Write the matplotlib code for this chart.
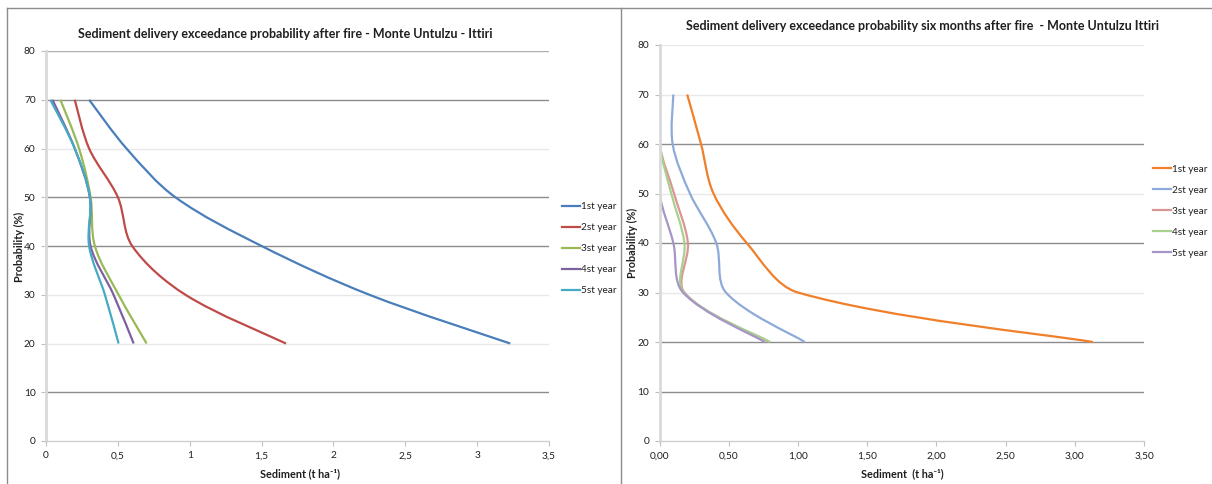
import numpy as np
import matplotlib
matplotlib.use("Agg")
import matplotlib.pyplot as plt
from matplotlib.path import Path
from matplotlib.patches import PathPatch
from matplotlib.lines import Line2D

# ---------------- data ----------------
probability = [70, 60, 50, 40, 30, 20]
series_labels = ["1st year", "2st year", "3st year", "4st year", "5st year"]

after_fire_1st = [0.30, 0.56, 0.90, 1.50, 2.25, 3.23]
after_fire_2nd = [0.20, 0.30, 0.50, 0.60, 0.97, 1.67]
after_fire_3rd = [0.10, 0.23, 0.31, 0.34, 0.505, 0.70]
after_fire_4th = [0.045, 0.20, 0.305, 0.31, 0.47, 0.61]
after_fire_5th = [0.03, 0.20, 0.305, 0.30, 0.41, 0.505]

six_months_1st = [0.20, 0.30, 0.39, 0.63, 1.00, 3.13]
six_months_2nd = [0.10, 0.095, 0.22, 0.41, 0.48, 1.05]
six_months_3rd = [0.0, 0.0, 0.105, 0.205, 0.18, 0.79]
six_months_4th = [0.0, 0.0, 0.085, 0.18, 0.175, 0.80]
six_months_5th = [0.0, 0.0, 0.0, 0.10, 0.17, 0.76]

x_ticks = [0, 0.5, 1, 1.5, 2, 2.5, 3, 3.5]
left_xticklabels = ["0", "0,5", "1", "1,5", "2", "2,5", "3", "3,5"]
right_xticklabels = ["0,00", "0,50", "1,00", "1,50", "2,00", "2,50", "3,00", "3,50"]
y_ticks = [0, 10, 20, 30, 40, 50, 60, 70, 80]

left_title = "Sediment delivery exceedance probability after fire - Monte Untulzu - Ittiri"
right_title = "Sediment delivery exceedance probability six months after fire  - Monte Untulzu Ittiri"

left_colors = ["#4a7ebb", "#be4b48", "#98b954", "#7d60a0", "#46aac5"]
right_colors = ["#f07f2a", "#8eaad8", "#d99694", "#a9d18e", "#a696c8"]

FONT = ["Lato", "DejaVu Sans"]
plt.rcParams["font.family"] = FONT
TXT = "#1f1f1f"

W, H = 1212, 484
fig = plt.figure(figsize=(W / 100, H / 100), dpi=100)


def fx(px):
    return px / W


def fy(py):
    return 1 - py / H


def smooth_path(ax, xs, ys):
    """Excel-style smoothed line: cubic Bezier through the points, control
    points computed in display space with chord-length weighting."""
    data = np.column_stack([xs, ys]).astype(float)
    pts = ax.transData.transform(data)
    n = len(pts)
    verts = [pts[0]]
    codes = [Path.MOVETO]
    for i in range(n - 1):
        p0 = pts[i - 1] if i > 0 else pts[i]
        p1 = pts[i]
        p2 = pts[i + 1]
        p3 = pts[i + 2] if i + 2 < n else pts[i + 1]
        d01 = np.hypot(*(p1 - p0))
        d12 = np.hypot(*(p2 - p1))
        d23 = np.hypot(*(p3 - p2))
        f1 = d12 / (d01 + d12) if d01 + d12 > 0 else 0.5
        f2 = d12 / (d12 + d23) if d12 + d23 > 0 else 0.5
        if i == 0:
            f1 = 0.5
        if i + 2 >= n:
            f2 = 0.5
        c1 = p1 + (p2 - p0) * f1 / 3.0
        c2 = p2 - (p3 - p1) * f2 / 3.0
        verts += [c1, c2, p2]
        codes += [Path.CURVE4] * 3
    verts = ax.transData.inverted().transform(np.array(verts))
    return Path(verts, codes)


def make_axes(rect, series, colors, xticklabels, grid_colors, title, title_xy,
              xlabel, xlabel_xy, ylabel_xy, legend_xy):
    ax = fig.add_axes(rect)
    ax.set_xlim(0, 3.5)
    ax.set_ylim(0, 80)
    ax.set_xticks(x_ticks)
    ax.set_xticklabels(xticklabels)
    ax.set_yticks(y_ticks)
    for s in ["top", "right"]:
        ax.spines[s].set_visible(False)
    ax.spines["left"].set_color("#d9d9d9")
    ax.spines["left"].set_linewidth(2)
    ax.spines["bottom"].set_color("#cfcfcf")
    ax.spines["bottom"].set_linewidth(1)
    ax.tick_params(axis="both", length=3.5, width=0.8, color="#bfbfbf",
                   labelsize=7.3, labelcolor=TXT, pad=4)
    ax.yaxis.grid(True, linewidth=1)
    for gl, c in zip(ax.get_ygridlines(), grid_colors):
        gl.set_color(c)
    ax.set_axisbelow(True)
    handles = []
    for ys, c, lab in zip(series, colors, series_labels):
        patch = PathPatch(smooth_path(ax, ys, probability), facecolor="none",
                          edgecolor=c, lw=1.6, transform=ax.transData)
        ax.add_patch(patch)
        handles.append(Line2D([], [], color=c, lw=1.6, label=lab))
    leg = fig.legend(handles=handles, loc="upper left",
                     bbox_to_anchor=(fx(legend_xy[0]), fy(legend_xy[1])),
                     bbox_transform=fig.transFigure, frameon=False,
                     fontsize=7.2, handlelength=1.8, handletextpad=0.1,
                     labelspacing=1.2, borderpad=0, borderaxespad=0)
    for t in leg.get_texts():
        t.set_color(TXT)
    fig.text(fx(title_xy[0]), fy(title_xy[1]), title, ha="center", va="center",
             fontsize=9.0, fontweight="bold", color=TXT)
    fig.text(fx(xlabel_xy[0]), fy(xlabel_xy[1]), xlabel, ha="center", va="center",
             fontsize=7.8, fontweight="bold", color=TXT)
    fig.text(fx(ylabel_xy[0]), fy(ylabel_xy[1]), "Probability (%)", ha="center",
             va="center", rotation=90, fontsize=7.8, fontweight="bold", color=TXT)
    return ax


DARK = "#8c8c8c"
LIGHT = "#e8e8e8"
MID = "#b0b0b0"

left_grid = ["none", DARK, LIGHT, LIGHT, DARK, DARK, LIGHT, DARK, MID]
right_grid = ["none", DARK, DARK, LIGHT, DARK, LIGHT, DARK, LIGHT, LIGHT]

make_axes([fx(46), 1 - 441 / H, (549 - 46) / W, (441 - 51) / H],
          [after_fire_1st, after_fire_2nd, after_fire_3rd, after_fire_4th, after_fire_5th],
          left_colors, left_xticklabels, left_grid, left_title, (285, 34.5),
          "Sediment (t ha\u207b\u00b9)", (300, 474), (19, 247), (562, 202))

make_axes([fx(659.5), 1 - 441 / H, (1144 - 659.5) / W, (441 - 45) / H],
          [six_months_1st, six_months_2nd, six_months_3rd, six_months_4th, six_months_5th],
          right_colors, right_xticklabels, right_grid, right_title, (922, 26.5),
          "Sediment  (t ha\u207b\u00b9)", (902, 474), (632, 243), (1153, 165))

# chart borders
border = dict(color="#8c8c8c", lw=1, transform=fig.transFigure)
fig.add_artist(Line2D([fx(7), fx(1212)], [fy(8), fy(8)], **border))
fig.add_artist(Line2D([fx(7), fx(7)], [fy(8), fy(484)], **border))
fig.add_artist(Line2D([fx(621), fx(621)], [fy(8), fy(484)], **border))

fig.savefig("out.png", dpi=100)
